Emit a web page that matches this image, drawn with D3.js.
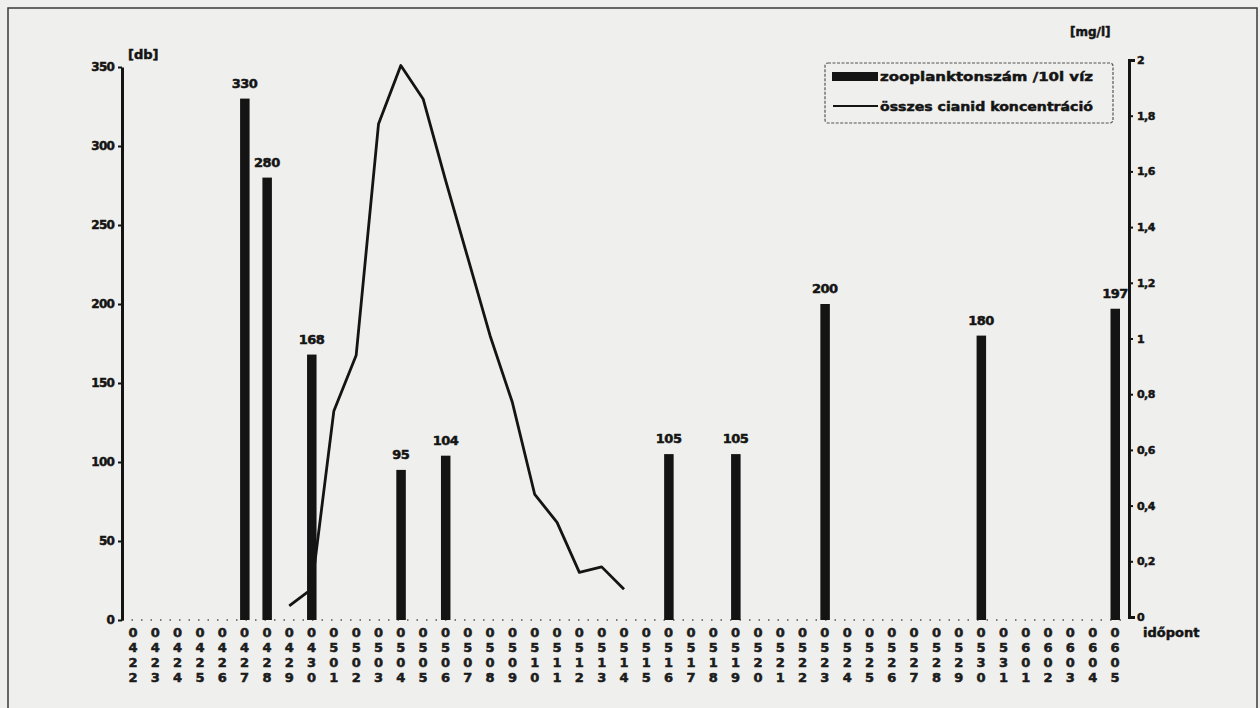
<!DOCTYPE html>
<html>
<head>
<meta charset="utf-8">
<script src="https://cdn.jsdelivr.net/npm/d3@7"></script>
<style>
body { margin: 0; background: #efefed; }
svg { display: block; font-family: "DejaVu Sans", "Liberation Sans", sans-serif; font-weight: bold; }
.heavy { stroke: #141414; stroke-width: 0.5px; }
</style>
</head>
<body>
<svg id="chart"></svg>
<script>
const svgWidth = 1260
const svgHeight = 708

// sampling dates (időpont) - printed vertically under the axis
const dates = ["0422","0423","0424","0425","0426","0427","0428","0429","0430",
	"0501","0502","0503","0504","0505","0506","0507","0508","0509","0510",
	"0511","0512","0513","0514","0515","0516","0517","0518","0519","0520",
	"0521","0522","0523","0524","0525","0526","0527","0528","0529","0530",
	"0531","0601","0602","0603","0604","0605"]

// zooplankton count / 10 l water
const zooDates = ["0427","0428","0430","0504","0506","0516","0519","0523","0530","0605"]
const zooValues = [330, 280, 168, 95, 104, 105, 105, 200, 180, 197]

// total cyanide concentration, mg/l
const cyanDates = ["0429","0430","0501","0502","0503","0504","0505","0506",
	"0507","0508","0509","0510","0511","0512","0513","0514"]
const cyanValues = [0.04, 0.10, 0.74, 0.94, 1.77, 1.98, 1.86, 1.57,
	1.29, 1.01, 0.77, 0.44, 0.34, 0.16, 0.18, 0.10]

const leftTicks = [0, 50, 100, 150, 200, 250, 300, 350]
const rightTicks = [0, 0.2, 0.4, 0.6, 0.8, 1, 1.2, 1.4, 1.6, 1.8, 2]

const ink = "#141414"

let svg = d3.select("#chart")
	.attr("width", svgWidth)
	.attr("height", svgHeight)

// frame of the printed figure
svg.append("rect")
	.attr("x", 8).attr("y", 8)
	.attr("width", 1249).attr("height", 730)
	.attr("fill", "none")
	.attr("stroke", "#3a3a3a")
	.attr("stroke-width", 1.5)

const x = d3.scalePoint().domain(dates).range([133, 1115])
const yL = d3.scaleLinear().domain([0, 350]).range([620, 67])
const yR = d3.scaleLinear().domain([0, 2]).range([617, 60])

// dotted base line
svg.append("line")
	.attr("x1", 122).attr("x2", 1129)
	.attr("y1", 620).attr("y2", 620)
	.attr("stroke", "#555")
	.attr("stroke-width", 1.6)
	.attr("stroke-dasharray", "1.5,8")

// bars
svg.append("g")
	.selectAll("rect")
	.data(zooDates)
	.enter().append("rect")
	.attr("x", d => x(d) - 4.5)
	.attr("width", 9.5)
	.attr("y", (d, i) => yL(zooValues[i]))
	.attr("height", (d, i) => yL(0) - yL(zooValues[i]))
	.attr("fill", ink)

svg.append("g")
	.selectAll("text")
	.data(zooDates)
	.enter().append("text")
	.attr("class", "heavy")
	.attr("x", d => x(d))
	.attr("y", (d, i) => yL(zooValues[i]) - 11)
	.attr("text-anchor", "middle")
	.attr("font-size", 13)
	.attr("letter-spacing", -0.5)
	.attr("fill", ink)
	.text((d, i) => zooValues[i])

// cyanide line
const line = d3.line()
	.x(d => x(d))
	.y((d, i) => yR(cyanValues[i]))

svg.append("path")
	.datum(cyanDates)
	.attr("d", line)
	.attr("fill", "none")
	.attr("stroke", ink)
	.attr("stroke-width", 2.8)
	.attr("stroke-linejoin", "round")

// left axis
let gl = svg.append("g")
	.attr("transform", "translate(122,0)")
	.call(d3.axisLeft(yL).tickValues(leftTicks).tickSize(4).tickSizeOuter(0).tickPadding(4))
gl.select(".domain").attr("stroke", ink).attr("stroke-width", 3)
gl.selectAll(".tick line").attr("stroke", ink).attr("stroke-width", 2)
gl.selectAll(".tick text")
	.attr("class", "heavy")
	.attr("font-size", 12).attr("font-family", "DejaVu Sans")
	.attr("letter-spacing", -0.8).attr("fill", ink)

// right axis
let gr = svg.append("g")
	.attr("transform", "translate(1129,0)")
	.call(d3.axisRight(yR).tickValues(rightTicks).tickSize(4).tickSizeOuter(6).tickPadding(4)
		.tickFormat(d => String(d).replace(".", ",")))
gr.select(".domain").attr("stroke", ink).attr("stroke-width", 3)
gr.selectAll(".tick line").attr("stroke", ink).attr("stroke-width", 2)
gr.selectAll(".tick text")
	.attr("class", "heavy")
	.attr("font-size", 11).attr("font-family", "DejaVu Sans")
	.attr("letter-spacing", -0.6).attr("fill", ink)

// date labels, one character under the other
let gx = svg.append("g")
gx.selectAll("text")
	.data(dates)
	.enter().append("text")
	.attr("class", "heavy")
	.attr("font-size", 13)
	.attr("fill", "#1e1e1e")
	.attr("text-anchor", "middle")
	.selectAll("tspan")
	.data(d => d.split("").map(c => ({c: c, k: d})))
	.enter().append("tspan")
	.attr("x", d => x(d.k))
	.attr("y", (d, i) => 637 + i * 15)
	.text(d => d.c)

// unit labels
svg.append("text").attr("class", "heavy").attr("x", 128).attr("y", 59)
	.attr("font-size", 13).attr("fill", ink).text("[db]")
svg.append("text").attr("class", "heavy").attr("x", 1070).attr("y", 36)
	.attr("font-size", 12).attr("fill", ink).text("[mg/l]")
svg.append("text").attr("class", "heavy").attr("x", 1143).attr("y", 637)
	.attr("font-size", 13).attr("fill", ink).text("időpont")

// legend
let lg = svg.append("g")
lg.append("rect")
	.attr("x", 825).attr("y", 63)
	.attr("width", 288).attr("height", 60)
	.attr("rx", 3)
	.attr("fill", "none")
	.attr("stroke", "#555")
	.attr("stroke-width", 1.2)
	.attr("stroke-dasharray", "3,1.5")
lg.append("rect")
	.attr("x", 832).attr("y", 72)
	.attr("width", 46).attr("height", 9)
	.attr("fill", ink)
lg.append("text")
	.attr("class", "heavy")
	.attr("x", 880).attr("y", 81)
	.attr("font-size", 13)
	.attr("textLength", 213).attr("lengthAdjust", "spacingAndGlyphs")
	.attr("fill", ink)
	.text("zooplanktonszám /10l víz")
lg.append("line")
	.attr("x1", 833).attr("x2", 878)
	.attr("y1", 106).attr("y2", 106)
	.attr("stroke", ink).attr("stroke-width", 2)
lg.append("text")
	.attr("class", "heavy")
	.attr("x", 880).attr("y", 111)
	.attr("font-size", 13)
	.attr("textLength", 213).attr("lengthAdjust", "spacingAndGlyphs")
	.attr("fill", ink)
	.text("összes cianid koncentráció")
</script>
</body>
</html>
